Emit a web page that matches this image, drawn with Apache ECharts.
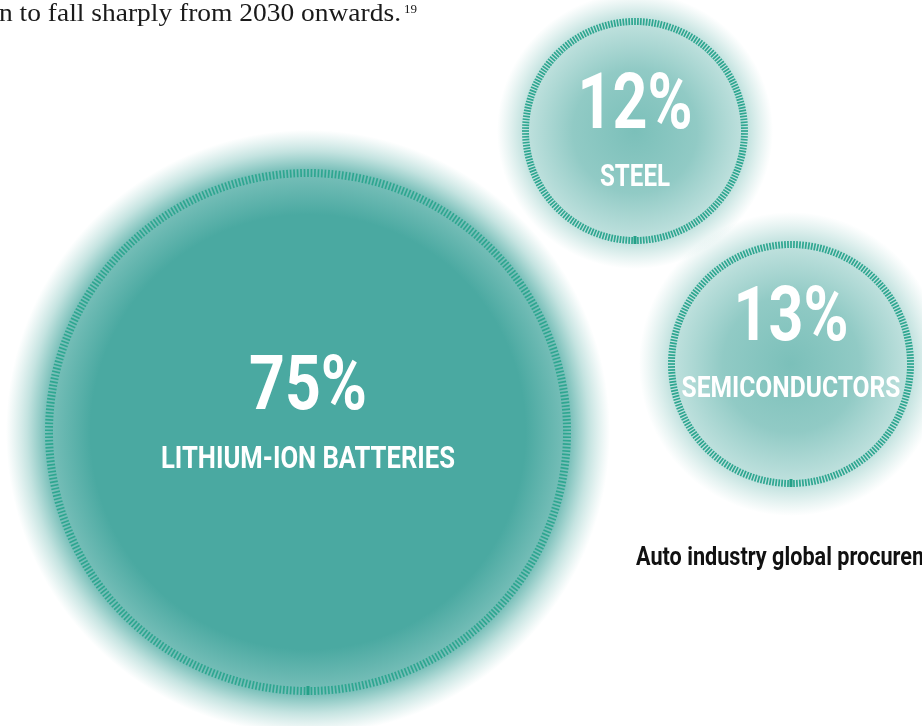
<!DOCTYPE html>
<html>
<head>
<meta charset="utf-8">
<script src="https://cdn.jsdelivr.net/npm/echarts@6/dist/echarts.min.js"></script>
<style>
html,body{margin:0;padding:0;background:#fff;}
#chart{width:922px;height:726px;}
</style>
</head>
<body>
<div id="chart"></div>
<script>
// ---- data ----
var categories = ['LITHIUM-ION BATTERIES', 'STEEL', 'SEMICONDUCTORS'];
var shares = [75, 12, 13];
var introText = 'n to fall sharply from 2030 onwards.';
var footnoteRef = '19';
var captionText = 'Auto industry global procurement';

// ---- layout (not data) ----
var layout = [
  {center: [308, 432], r: 263, glow: 302, tickLen: 8, ticks: 470,
   valueY: 390, valueW: 118, valueSize: 76, nameY: 460, nameW: 294, nameSize: 32, solid: true},
  {center: [635, 131], r: 113, glow: 138, tickLen: 7, ticks: 236,
   valueY: 109, valueW: 115, valueSize: 77, nameY: 178, nameW: 70, nameSize: 32, solid: false},
  {center: [791, 364], r: 123, glow: 152, tickLen: 7, ticks: 252,
   valueY: 321, valueW: 115, valueSize: 76, nameY: 389, nameW: 219, nameSize: 30, solid: false}
];
var condensed = 'Roboto';
var serif = "'Liberation Serif'";

var measureCtx = document.createElement('canvas').getContext('2d');
function textWidth(txt, size, weight, family) {
  measureCtx.font = weight + ' ' + size + 'px ' + family;
  return measureCtx.measureText(txt).width;
}
function fitText(txt, cx, cy, targetW, size, weight, family, color, align) {
  var w = textWidth(txt, size, weight, family);
  return {
    type: 'text', x: cx, y: cy, scaleX: targetW / w, z: 100, silent: true,
    style: {text: txt, x: 0, y: 0, fill: color, fontSize: size, fontWeight: weight,
      fontFamily: family, align: align || 'center', verticalAlign: 'middle'}
  };
}

var series = [];
layout.forEach(function (L, i) {
  var rf = L.r / L.glow;
  var stops = L.solid ? [
    {offset: 0, color: 'rgba(74,169,161,1)'},
    {offset: 0.72, color: 'rgba(74,169,161,1)'},
    {offset: rf, color: 'rgba(82,173,165,0.76)'},
    {offset: rf + 0.06, color: 'rgba(92,178,170,0.36)'},
    {offset: 1, color: 'rgba(110,186,178,0)'}
  ] : [
    {offset: 0, color: 'rgba(86,174,166,0.78)'},
    {offset: 0.45, color: 'rgba(88,175,167,0.66)'},
    {offset: rf, color: 'rgba(98,181,173,0.38)'},
    {offset: 1, color: 'rgba(120,190,182,0)'}
  ];
  series.push({
    type: 'pie', silent: true, center: L.center, radius: [0, L.glow],
    label: {show: false}, labelLine: {show: false}, animation: false,
    itemStyle: {color: {type: 'radial', x: 0.5, y: 0.5, r: 0.5, colorStops: stops}},
    data: [{value: shares[i], name: categories[i]}], z: 1
  });
});
layout.forEach(function (L, i) {
  series.push({
    type: 'gauge', center: L.center, radius: L.r, startAngle: -90, endAngle: -450,
    min: 0, max: 100, splitNumber: 1, animation: false, z: 3, silent: true,
    axisLine: {show: false, lineStyle: {width: 0}},
    splitLine: {show: true, length: L.tickLen + 1, distance: 0,
      lineStyle: {color: '#24a088', width: 2.6}},
    axisLabel: {show: false},
    pointer: {show: false}, anchor: {show: false}, progress: {show: false},
    axisTick: {show: true, splitNumber: L.ticks, length: L.tickLen, distance: 0,
      lineStyle: {color: '#2ea690', width: 1.7}},
    title: {show: false}, detail: {show: false},
    data: [{value: shares[i], name: categories[i]}]
  });
});

var graphics = [];
layout.forEach(function (L, i) {
  graphics.push(fitText(shares[i] + '%', L.center[0], L.valueY, L.valueW, L.valueSize, 'bold', condensed, '#ffffff'));
  graphics.push(fitText(categories[i], L.center[0], L.nameY, L.nameW, L.nameSize, 'bold', condensed, '#ffffff'));
});
// intro sentence (cut at left edge) + footnote marker
var introW = 402;
graphics.push(fitText(introText, -1, 14, introW, 25, 'normal', serif, '#1a1a1a', 'left'));
graphics.push({type: 'text', x: introW + 2, y: 3, silent: true, z: 100,
  style: {text: footnoteRef, fill: '#1a1a1a', fontSize: 13, fontFamily: serif, align: 'left', verticalAlign: 'top'}});
// caption (cut at right edge)
(function () {
  var partial = 'Auto industry global procure';
  var w = textWidth(partial, 26, 'bold', condensed);
  var s = 276 / w;
  graphics.push({type: 'text', x: 636, y: 558, scaleX: s, silent: true, z: 100,
    style: {text: captionText, x: 0, y: 0, fill: '#111111', fontSize: 26, fontWeight: 'bold',
      fontFamily: condensed, align: 'left', verticalAlign: 'middle'}});
})();

var chart = echarts.init(document.getElementById('chart'), null, {renderer: 'canvas'});
chart.setOption({
  backgroundColor: '#ffffff',
  series: series,
  graphic: {elements: graphics}
});
</script>
</body>
</html>
